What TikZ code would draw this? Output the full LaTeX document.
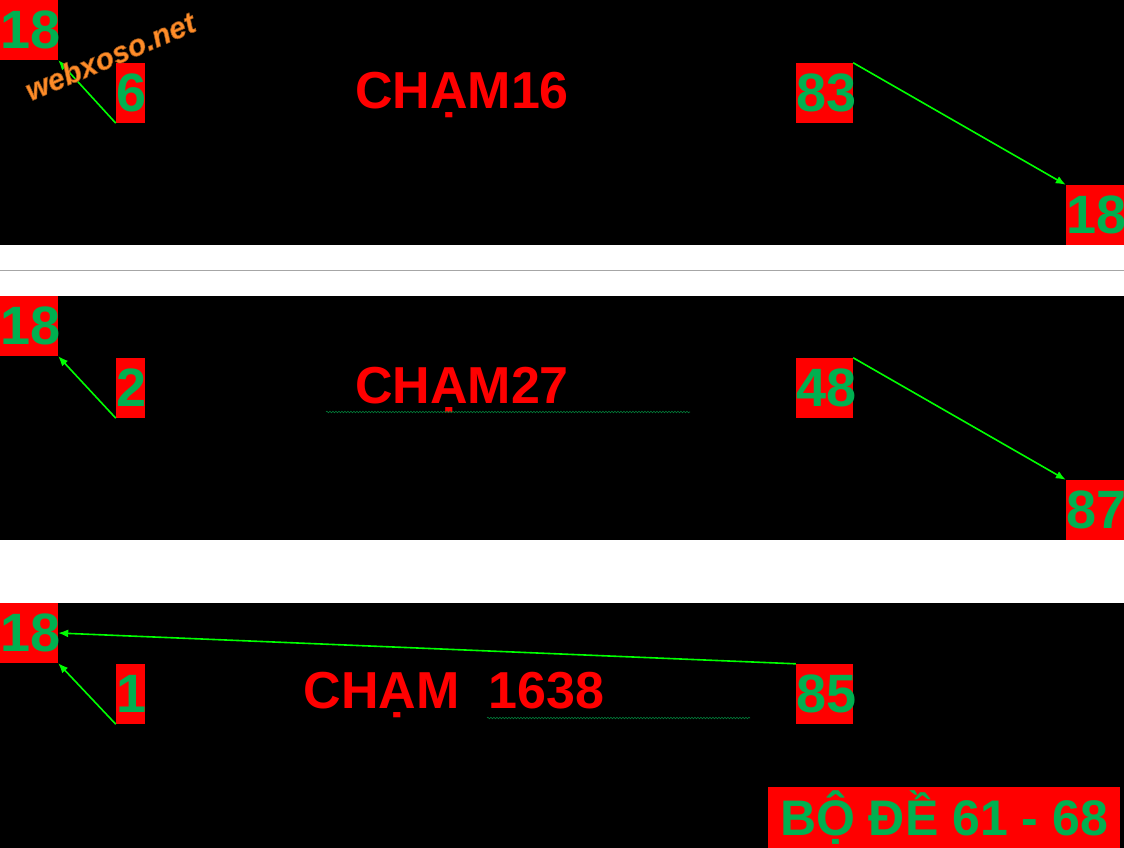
\documentclass[tikz,border=0pt]{standalone}
\usepackage{fontspec}
\setmainfont{Liberation Sans}
\usetikzlibrary{arrows.meta,decorations.pathmorphing}
\definecolor{numg}{RGB}{0,176,80}
\definecolor{lg}{RGB}{0,255,0}
\definecolor{wm}{RGB}{255,140,40}
\begin{document}
\begin{tikzpicture}[x=1pt,y=-1pt,
 nb/.style={fill=red,text=numg,inner sep=0pt,font=\fontsize{54}{54}\selectfont\bfseries,minimum height=60pt,text width=#1,align=center,minimum width=#1},
 ttl/.style={text=red,inner sep=0pt,font=\fontsize{52}{52}\selectfont\bfseries},
 arr/.style={draw=lg,line width=1.6pt,-{Latex[length=10pt,width=8pt]}},
 wavy/.style={draw=numg!70!black,decorate,decoration={snake,amplitude=0.8pt,segment length=3pt},line width=0.6pt}]
\useasboundingbox (0,0) rectangle (1124,848);
\fill[white] (0,0) rectangle (1124,848);
\fill[black] (0,0) rectangle (1124,245);
\fill[black] (0,296) rectangle (1124,540);
\fill[black] (0,603) rectangle (1124,848);
\draw[gray!70,line width=1pt] (0,270) -- (1124,270);
% panel 1
\node[nb=58pt] (a1) at (29,30) {18};
\node[nb=29pt] (b1) at (130.5,93) {6};
\node[nb=57pt] (c1) at (824.5,93) {83};
\node[nb=58pt] (d1) at (1095,215) {18};
\node[ttl] (t1) at (462,95) {CHẠM16};
\draw[arr] (b1.south west) -- (a1.south east);
\draw[arr] (c1.north east) -- (d1.north west);
\node[text=wm,rotate=23,font=\fontsize{30}{30}\selectfont\bfseries\itshape,inner sep=0pt] (wm) at (110,56) {\pgfsetfillcolor{wm}\pgfsetstrokecolor{wm!60!black}\special{pdf:literal 2 Tr 0.6 w}webxoso.net\special{pdf:literal 0 Tr}};
% panel 2
\node[nb=58pt] (a2) at (29,326) {18};
\node[nb=29pt] (b2) at (130.5,388) {2};
\node[nb=57pt] (c2) at (824.5,388) {48};
\node[nb=58pt] (d2) at (1095,510) {87};
\node[ttl] (t2) at (462,390) {CHẠM27};
\coordinate (w2a) at (326,412); \coordinate (w2b) at (690,412);
\draw[wavy] (w2a) -- (w2b);
\draw[arr] (b2.south west) -- (a2.south east);
\draw[arr] (c2.north east) -- (d2.north west);
% panel 3
\node[nb=58pt] (a3) at (29,633) {18};
\node[nb=29pt] (b3) at (130.5,694) {1};
\node[nb=57pt] (c3) at (824.5,694) {85};
\node[ttl] (t3) at (454,695) {CHẠM\ \ 1638};
\coordinate (w3a) at (487,718); \coordinate (w3b) at (750,718);
\draw[wavy] (w3a) -- (w3b);
\draw[arr] (b3.south west) -- (a3.south east);
\draw[arr] (c3.north west) -- (a3.east);
\node[fill=red,text=numg,inner sep=0pt,minimum width=352pt,minimum height=61pt,font=\fontsize{50}{50}\selectfont\bfseries] (bd) at (944,817.5) {BỘ ĐỀ 61 - 68};
\end{tikzpicture}
\end{document}
